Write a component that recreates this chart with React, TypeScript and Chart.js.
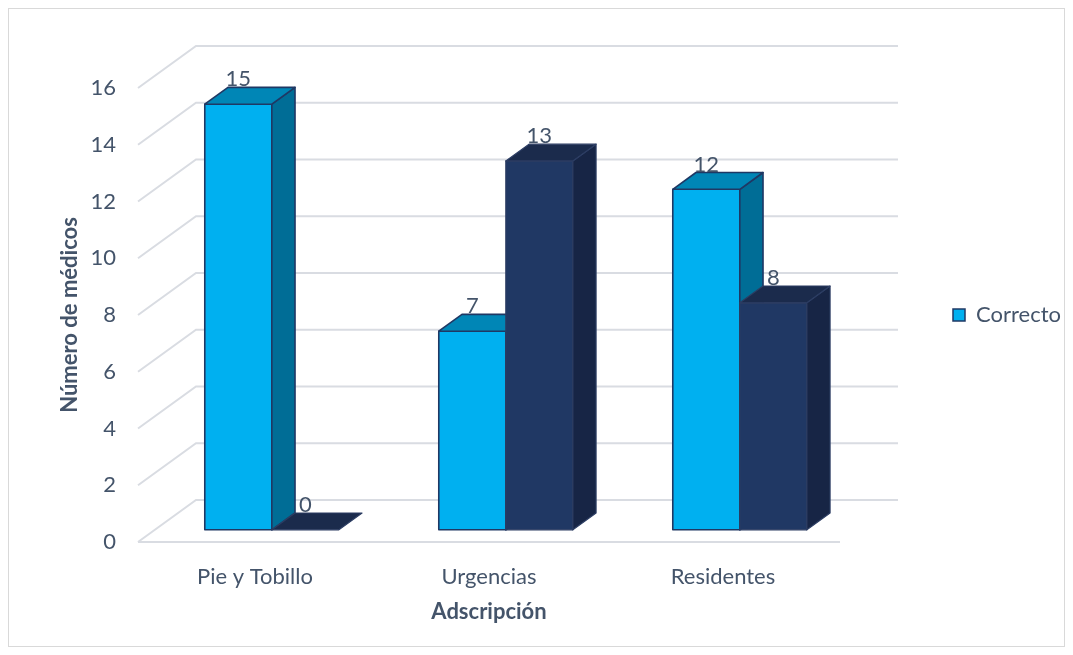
import React, { useEffect, useRef } from 'react';
import { Chart, registerables } from 'chart.js';

Chart.register(...registerables);

const categories = ['Pie y Tobillo', 'Urgencias', 'Residentes'];
const seriesNames = ['Correcto', 'Incorrecto'];
const correcto = [15, 7, 12];
const incorrecto = [0, 13, 8];
const yTickValues = [0, 2, 4, 6, 8, 10, 12, 14, 16];

const FONT = 'Lato, "Open Sans", sans-serif';
const TEXT = '#44546A';

// 3D look: depth vector of the floor, and where the bars sit in that depth
const DEPTH_X = 58;
const DEPTH_Y = -42;
const BAR_FRONT = 0.29;
const BAR_BACK = 0.69;

const faceColors = [
  { front: '#00B0F0', top: '#0086B6', side: '#006D96', edge: '#1F3864', lw: 1.6 },
  { front: '#203864', top: '#1B2B4C', side: '#172545', edge: '#2C3D63', lw: 1.2 },
];

const threeDPlugin = {
  id: 'threeD',
  beforeDatasetsDraw(chart: any) {
    const { ctx, chartArea, scales } = chart;
    const ys = scales.y;
    ctx.save();
    // walls grid
    ctx.strokeStyle = '#D9DCE2';
    ctx.lineWidth = 2;
    for (const v of yTickValues) {
      const py = ys.getPixelForValue(v);
      ctx.beginPath();
      ctx.moveTo(chartArea.left, py);
      ctx.lineTo(chartArea.left + DEPTH_X, py + DEPTH_Y);
      ctx.lineTo(chartArea.right + DEPTH_X, py + DEPTH_Y);
      if (v === 0) {
        ctx.moveTo(chartArea.left, py);
        ctx.lineTo(chartArea.right, py);
      }
      ctx.stroke();
    }
    const fx = DEPTH_X * BAR_FRONT;
    const fy = DEPTH_Y * BAR_FRONT;
    const bx = DEPTH_X * (BAR_BACK - BAR_FRONT);
    const by = DEPTH_Y * (BAR_BACK - BAR_FRONT);
    const labels: any[] = [];
    const n = categories.length;
    for (let i = 0; i < n; i++) {
      chart.data.datasets.forEach((ds: any, d: number) => {
        const el = chart.getDatasetMeta(d).data[i];
        if (!el) return;
        const c = faceColors[d];
        const l = el.x - el.width / 2 + fx;
        const r = el.x + el.width / 2 + fx;
        const t = el.y + fy;
        const b = el.base + fy;
        ctx.lineJoin = 'round';
        ctx.strokeStyle = c.edge;
        ctx.lineWidth = c.lw;
        // front
        if (b - t > 0.5) {
          ctx.fillStyle = c.front;
          ctx.beginPath();
          ctx.rect(l, t, r - l, b - t);
          ctx.fill();
          ctx.stroke();
          // side
          ctx.fillStyle = c.side;
          ctx.beginPath();
          ctx.moveTo(r, t);
          ctx.lineTo(r + bx, t + by);
          ctx.lineTo(r + bx, b + by);
          ctx.lineTo(r, b);
          ctx.closePath();
          ctx.fill();
          ctx.stroke();
        }
        // top
        ctx.fillStyle = c.top;
        ctx.beginPath();
        ctx.moveTo(l, t);
        ctx.lineTo(l + bx, t + by);
        ctx.lineTo(r + bx, t + by);
        ctx.lineTo(r, t);
        ctx.closePath();
        ctx.fill();
        ctx.stroke();
        labels.push({ text: String(ds.data[i]), x: (l + r) / 2, y: t + by - 1 });
      });
    }
    ctx.fillStyle = TEXT;
    ctx.font = `22px ${FONT}`;
    ctx.textAlign = 'center';
    ctx.textBaseline = 'alphabetic';
    for (const lb of labels) ctx.fillText(lb.text, lb.x, lb.y);
    ctx.restore();
    return false;
  },
};

export default function App() {
  const ref = useRef<HTMLCanvasElement>(null);
  useEffect(() => {
    if (!ref.current) return;
    const chart = new Chart(ref.current, {
      type: 'bar',
      data: {
        labels: categories,
        datasets: [
          {
            label: seriesNames[0],
            data: correcto,
            backgroundColor: '#00B0F0',
            borderColor: '#1F3864',
            borderWidth: 1.5,
          },
          {
            label: seriesNames[1],
            data: incorrecto,
            backgroundColor: '#203864',
            borderColor: '#2C3D63',
            borderWidth: 1.5,
          },
        ],
      },
      options: {
        responsive: false,
        animation: false,
        maintainAspectRatio: false,
        layout: { padding: { top: 79, left: 0, right: 0, bottom: 0 } },
        datasets: { bar: { barPercentage: 1, categoryPercentage: 0.573 } },
        plugins: {
          tooltip: { enabled: false },
          legend: {
            position: 'right',
            fullSize: false,
            maxWidth: 224,
            labels: {
              filter: (item: any) => item.datasetIndex === 0,
              boxWidth: 12,
              boxHeight: 12,
              padding: 113,
              color: TEXT,
              font: { family: FONT, size: 22 },
            },
          },
        },
        scales: {
          x: {
            grid: { display: false },
            border: { display: false },
            ticks: { color: TEXT, font: { family: FONT, size: 22 }, padding: 14 },
            title: {
              display: true,
              text: 'Adscripción',
              color: TEXT,
              font: { family: FONT, size: 22, weight: 'bold' },
              padding: { top: 0, bottom: 21 },
            },
            afterFit: (s: any) => {
              s.height = 104;
            },
          },
          y: {
            min: 0,
            max: 16,
            grid: { display: false },
            border: { display: false },
            ticks: {
              stepSize: 2,
              color: TEXT,
              font: { family: FONT, size: 22 },
              padding: 14,
            },
            title: {
              display: true,
              text: 'Número de médicos',
              color: TEXT,
              font: { family: FONT, size: 22, weight: 'bold' },
              padding: { top: 48, bottom: 0 },
            },
            afterFit: (s: any) => {
              s.width = 129;
            },
          },
        },
      },
      plugins: [threeDPlugin],
    } as any);
    return () => chart.destroy();
  }, []);
  return (
    <div
      style={{
        width: 1057,
        height: 639,
        border: '1px solid #D9D9D9',
        boxSizing: 'border-box',
        background: '#fff',
      }}
    >
      <canvas ref={ref} width={1055} height={637} style={{ display: 'block' }} />
    </div>
  );
}
